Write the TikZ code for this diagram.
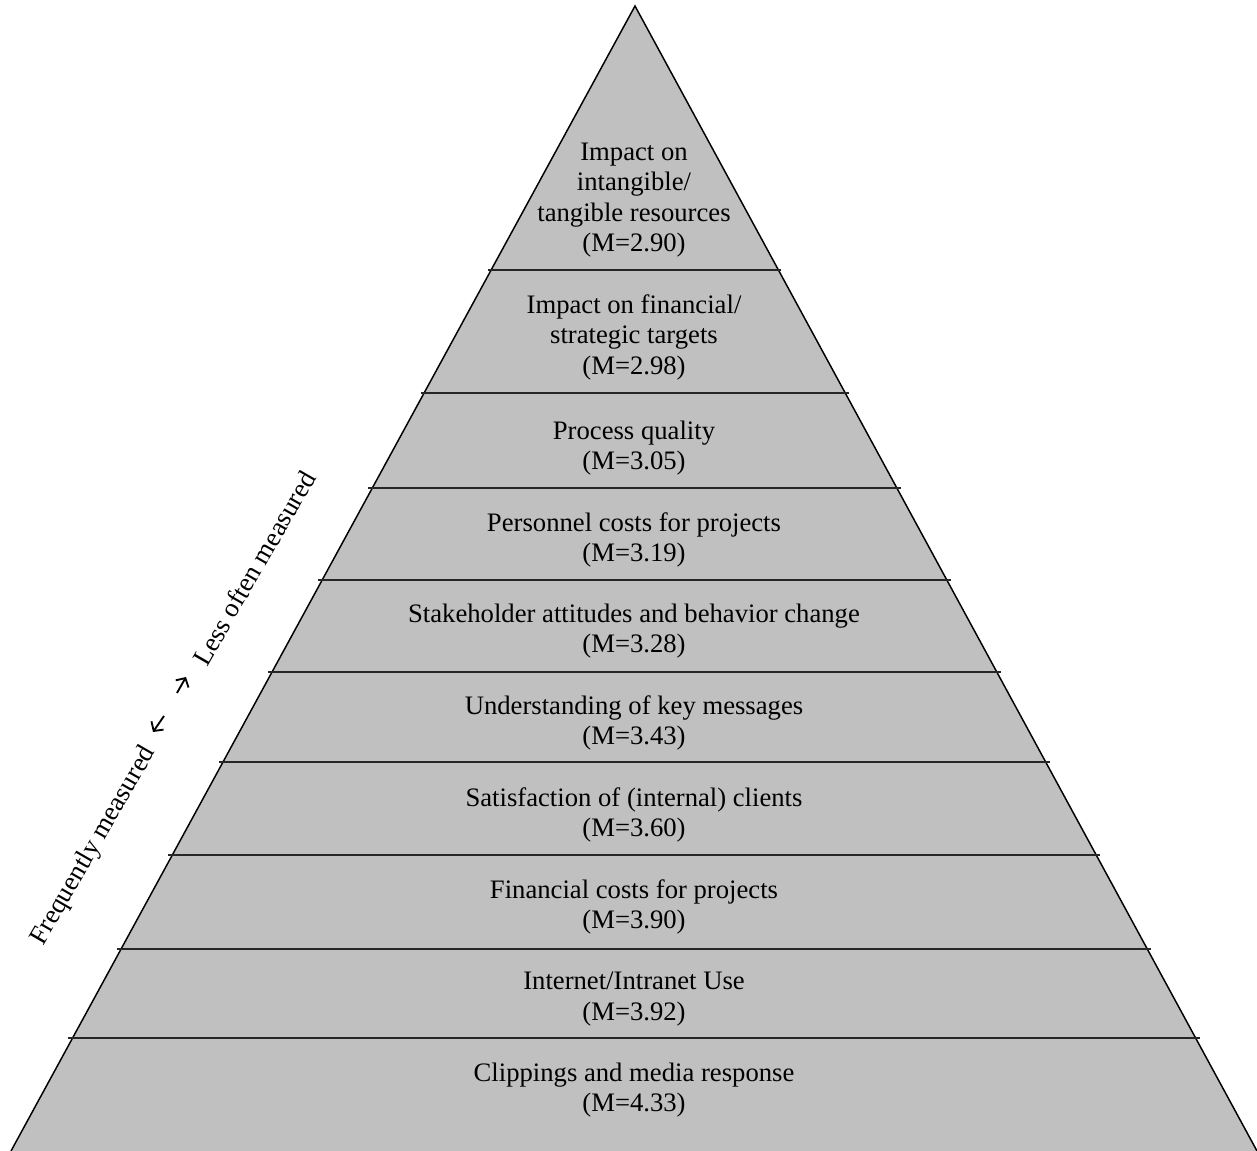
\documentclass[tikz,border=0pt]{standalone}
\usepackage{fontspec}
\setmainfont{Liberation Serif}
\usepackage{tikz}
\usetikzlibrary{arrows.meta}
\definecolor{levelgray}{RGB}{192,192,192}

\begin{document}
\begin{tikzpicture}[x = 0.75pt, y = -0.75pt]
\tikzstyle{PyramidStyle} = [draw = black, line width = 1.1pt]
\tikzstyle{LevelLineStyle} = [draw = black!85, line width = 1.1pt]
\tikzstyle{LevelStyle} = [align = center, font = \fontsize{20}{22.9}\selectfont, inner sep = 0pt]
\tikzstyle{AxisStyle} = [font = \fontsize{20}{22.9}\selectfont, rotate = 60, inner sep = 0pt]
\tikzstyle{AxisArrowStyle} = [-{Straight Barb[length = 5pt, width = 11pt]}, line width = 1.4pt]
\useasboundingbox (0,0) rectangle (1257,1151);
% pyramid body, no base line
\fill[levelgray] (11,1151) -- (635,6) -- (1257,1151) -- cycle;
\draw[PyramidStyle] (11,1151) -- (635,6) -- (1257,1151);
% level borders
\draw[LevelLineStyle] (488,270) -- (781,270);
\draw[LevelLineStyle] (421,393) -- (849,393);
\draw[LevelLineStyle] (368,488) -- (901,488);
\draw[LevelLineStyle] (318,580) -- (951,580);
\draw[LevelLineStyle] (268,672) -- (1001,672);
\draw[LevelLineStyle] (219,762) -- (1050,762);
\draw[LevelLineStyle] (168,855) -- (1100,855);
\draw[LevelLineStyle] (117,949) -- (1151,949);
\draw[LevelLineStyle] (68,1038) -- (1200,1038);
% level texts
\node[LevelStyle] (m290) at (634,200) {Impact on\\intangible/\\tangible resources\\(M=2.90)};
\node[LevelStyle] (m298) at (634,337) {Impact on financial/\\strategic targets\\(M=2.98)};
\node[LevelStyle] (m305) at (634,448) {Process quality\\(M=3.05)};
\node[LevelStyle] (m319) at (634,540) {Personnel costs for projects\\(M=3.19)};
\node[LevelStyle] (m328) at (634,631) {Stakeholder attitudes and behavior change\\(M=3.28)};
\node[LevelStyle] (m343) at (634,723) {Understanding of key messages\\(M=3.43)};
\node[LevelStyle] (m360) at (634,815) {Satisfaction of (internal) clients\\(M=3.60)};
\node[LevelStyle] (m390) at (634,907) {Financial costs for projects\\(M=3.90)};
\node[LevelStyle] (m392) at (634,999) {Internet/Intranet Use\\(M=3.92)};
\node[LevelStyle] (m433) at (634,1090) {Clippings and media response\\(M=4.33)};
% measurement axis
\node[AxisStyle] (frequent) at (94,846) {Frequently measured};
\node[AxisStyle] (lessoften) at (254,568) {Less often measured};
\coordinate (freqtail) at (164,716);
\coordinate (freqtip) at (153,732);
\coordinate (lesstail) at (177,693);
\coordinate (lesstip) at (186,677);
\draw[AxisArrowStyle] (freqtail) -- (freqtip);
\draw[AxisArrowStyle] (lesstail) -- (lesstip);
\end{tikzpicture}
\end{document}
